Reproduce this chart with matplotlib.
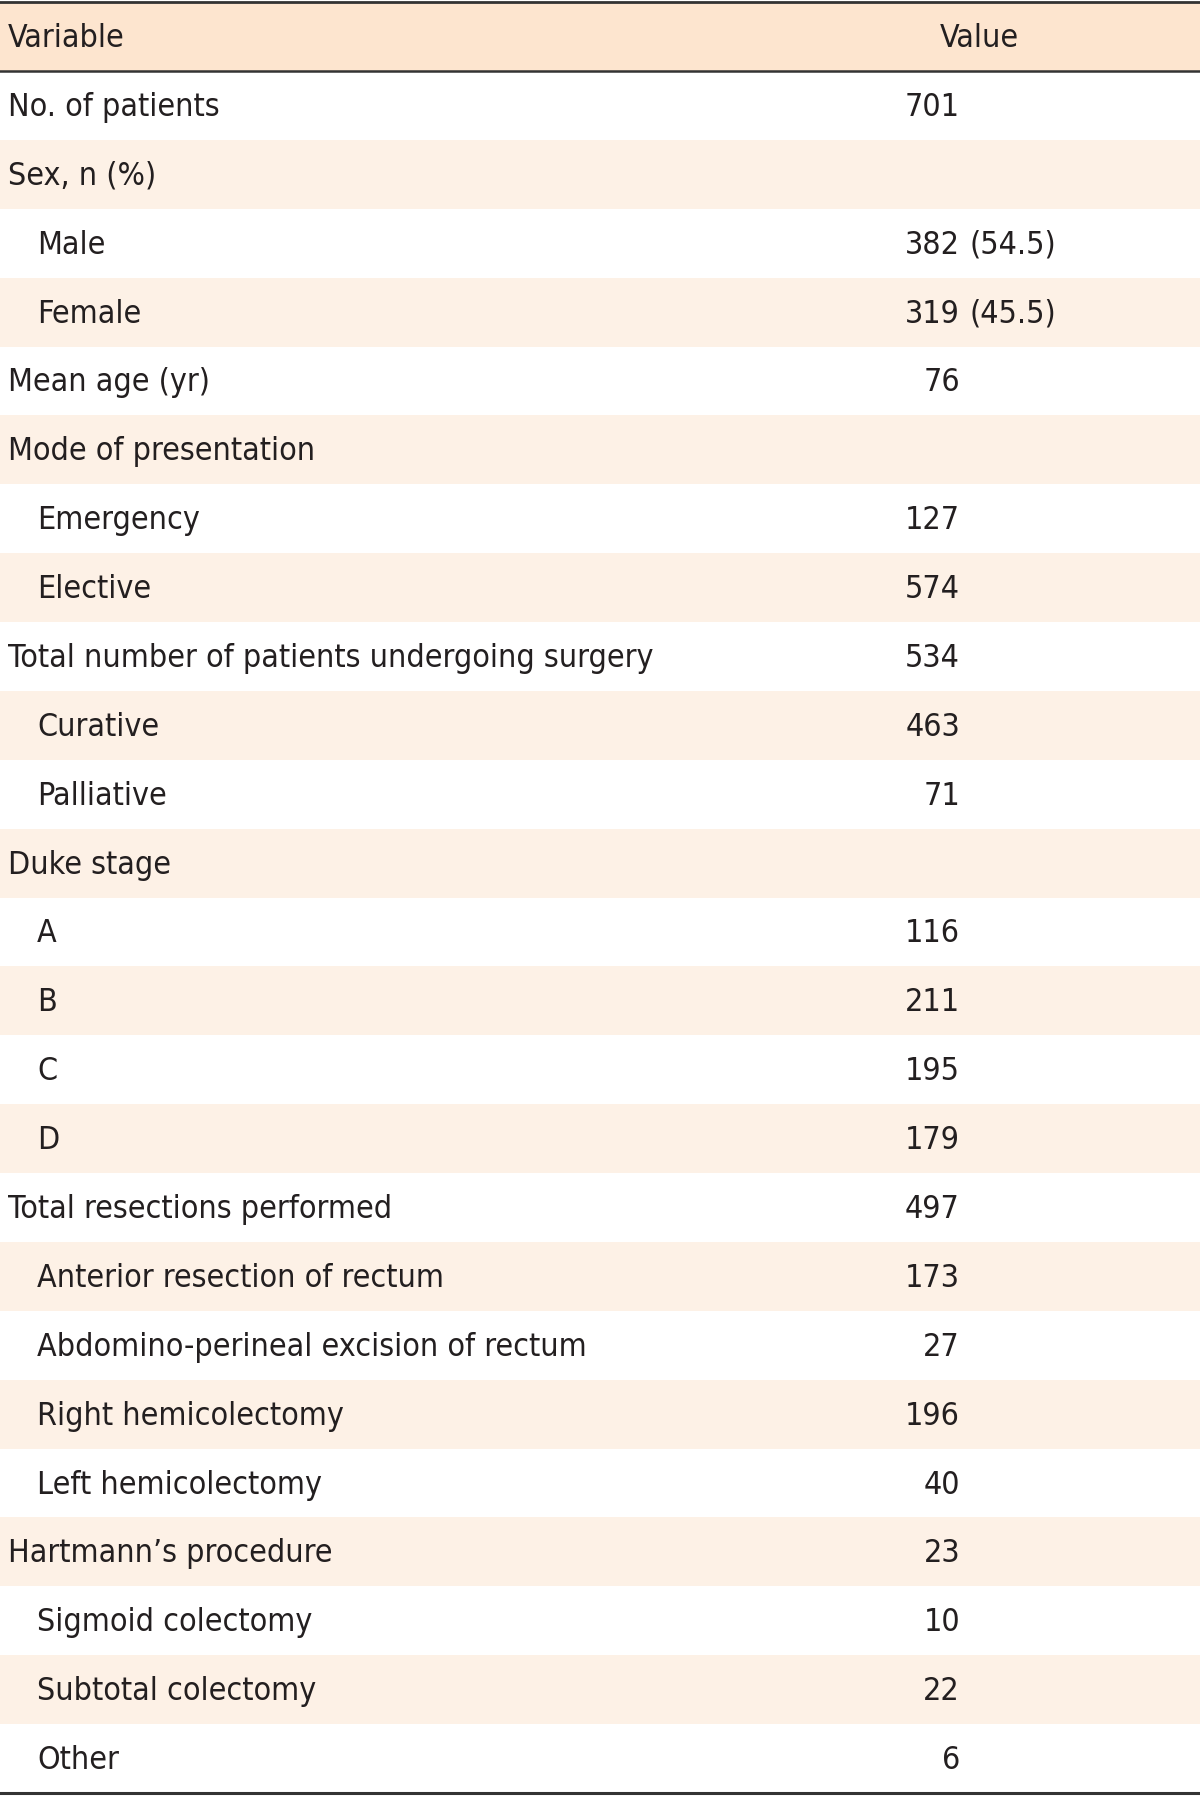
import matplotlib
matplotlib.use("Agg")
import matplotlib.pyplot as plt

# table content
labels = ["No. of patients", "Sex, n (%)", "Male", "Female", "Mean age (yr)",
          "Mode of presentation", "Emergency", "Elective",
          "Total number of patients undergoing surgery", "Curative", "Palliative",
          "Duke stage", "A", "B", "C", "D", "Total resections performed",
          "Anterior resection of rectum", "Abdomino-perineal excision of rectum",
          "Right hemicolectomy", "Left hemicolectomy", "Hartmann\u2019s procedure",
          "Sigmoid colectomy", "Subtotal colectomy", "Other"]
indent = [0, 0, 1, 1, 0, 0, 1, 1, 0, 1, 1, 0, 1, 1, 1, 1, 0, 1, 1, 1, 1, 0, 1, 1, 1]
counts = ["701", "", "382", "319", "76", "", "127", "574", "534", "463", "71", "",
          "116", "211", "195", "179", "497", "173", "27", "196", "40", "23", "10", "22", "6"]
pcts = ["", "", "(54.5)", "(45.5)"] + [""] * 21
headers = ["Variable", "Value"]

plt.rcParams["font.family"] = ["DejaVu Sans"]
plt.rcParams["font.stretch"] = "condensed"

W, H = 1200, 1796
fig = plt.figure(figsize=(12, 17.96), dpi=100)
ax = fig.add_axes([0, 0, 1, 1])
ax.set_xlim(0, W)
ax.set_ylim(H, 0)
ax.axis("off")

txt = "#231f20"
head_top, head_bot = 2, 71
row_h = (1793 - head_bot) / len(labels)
fs = 23
dy = 2  # text sits a touch below the row centre
kw = dict(fontsize=fs, color=txt, va="center", fontstretch="condensed")

ax.axhspan(head_top, head_bot, color="#fde5cf", lw=0)
ax.text(8, (head_top + head_bot) / 2 + dy, headers[0], ha="left", **kw)
ax.text(979, (head_top + head_bot) / 2 + dy, headers[1], ha="center", **kw)

for i, lab in enumerate(labels):
    y0 = head_bot + i * row_h
    if i % 2 == 1:
        ax.axhspan(y0, y0 + row_h, color="#fdf1e6", lw=0)
    yc = y0 + row_h / 2 + dy
    ax.text(8 + 29 * indent[i], yc, lab, ha="left", **kw)
    if counts[i]:
        ax.text(960, yc, counts[i], ha="right", **kw)
    if pcts[i]:
        ax.text(970, yc, pcts[i], ha="left", **kw)

ax.axhline(head_top, color="#333333", lw=2)
ax.axhline(head_bot, color="#333333", lw=1.8)
ax.axhline(1793, color="#333333", lw=2.2)

fig.savefig("out.png", dpi=100)
